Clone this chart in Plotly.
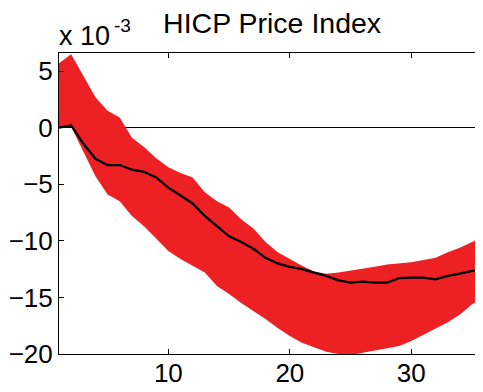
import plotly.graph_objects as go

periods = list(range(1, 37))
upper = [5.7, 6.5, 4.6, 2.7, 1.5, 0.9, -0.9, -1.7, -2.7, -3.5, -4.0, -4.4, -5.7, -6.5, -7.05, -8.1,
         -8.9, -10.1, -11.0, -11.6, -12.2, -12.7, -12.9, -12.8, -12.65, -12.5, -12.3, -12.1, -12.0,
         -11.9, -11.7, -11.5, -11.0, -10.6, -10.1, -9.6]
median = [0.0, 0.2, -1.4, -2.75, -3.3, -3.3, -3.7, -3.9, -4.4, -5.3, -6.0, -6.7, -7.8, -8.7, -9.6,
          -10.1, -10.7, -11.5, -12.0, -12.3, -12.5, -12.8, -13.1, -13.5, -13.7, -13.6, -13.7, -13.7,
          -13.3, -13.25, -13.25, -13.4, -13.1, -12.9, -12.65, -12.65]
lower = [0.0, 0.1, -2.1, -4.3, -5.9, -6.5, -7.8, -8.7, -9.8, -10.9, -11.6, -12.2, -12.8, -14.0,
         -14.7, -15.5, -16.2, -16.9, -17.7, -18.4, -19.0, -19.4, -19.8, -20.0, -20.1, -19.9, -19.7,
         -19.5, -19.3, -18.85, -18.3, -17.8, -17.2, -16.5, -15.6, -15.0]

title_text = "HICP Price Index"
scale_base = "x 10"
scale_exp = "-3"
y_ticks = [-20, -15, -10, -5, 0, 5]
x_ticks = [10, 20, 30]

RED = "#ED2024"
FONT = "Liberation Sans, Arial, sans-serif"

fig = go.Figure()
fig.add_trace(go.Scatter(x=periods, y=upper, mode="lines", line=dict(width=0, color=RED),
                         showlegend=False, hoverinfo="skip"))
fig.add_trace(go.Scatter(x=periods, y=lower, mode="lines", line=dict(width=0, color=RED),
                         fill="tonexty", fillcolor=RED, showlegend=False, hoverinfo="skip"))
fig.add_trace(go.Scatter(x=periods, y=median, mode="lines", line=dict(width=2.3, color="black"),
                         showlegend=False))

# page body has an 8px default margin, so the figure is offset by (8, 8)
fig.update_layout(
    width=475, height=384,
    margin=dict(l=51, r=0, t=45, b=38, autoexpand=False),
    paper_bgcolor="white", plot_bgcolor="white",
    font=dict(family=FONT, size=26, color="black"),
    title=dict(text=title_text, x=0.556, xanchor="center", y=0.962, yanchor="middle",
               font=dict(family=FONT, size=28.5, color="black")),
    xaxis=dict(range=[1, 35.9], tickvals=x_ticks, ticks="inside", ticklen=5, tickcolor="black",
               showline=True, linecolor="black", linewidth=1, mirror="ticks", showgrid=False,
               zeroline=False, tickfont=dict(size=26), ticklabelstandoff=-4, automargin=False),
    yaxis=dict(range=[-20, 6.6], tickvals=y_ticks, ticks="inside", ticklen=5, tickcolor="black",
               showline=True, linecolor="black", linewidth=1, showgrid=False,
               zeroline=True, zerolinecolor="black", zerolinewidth=1,
               tickfont=dict(size=26), ticklabelstandoff=0, automargin=False),
    annotations=[
        dict(text=scale_base, xref="paper", yref="paper", x=0.0, y=1.0,
             xanchor="left", yanchor="bottom", showarrow=False,
             font=dict(family=FONT, size=27, color="black"), xshift=-2, yshift=0),
        dict(text=scale_exp, xref="paper", yref="paper", x=0.0, y=1.0,
             xanchor="left", yanchor="bottom", showarrow=False,
             font=dict(family=FONT, size=19, color="black"), xshift=53, yshift=15),
    ],
)

fig.write_html("out.html")
